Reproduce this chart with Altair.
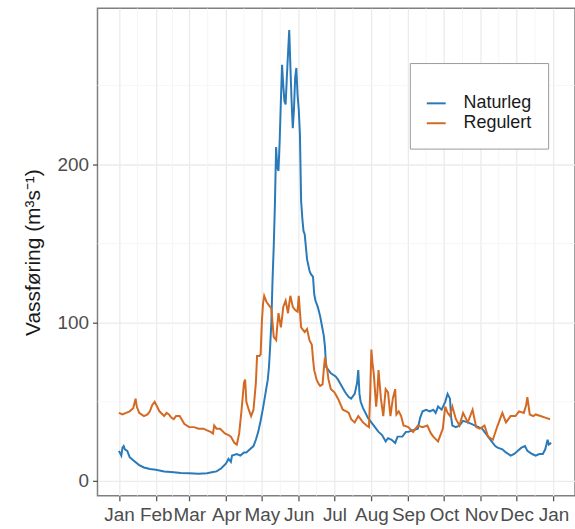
import altair as alt
import pandas as pd

# Daily discharge over one year (day 0 = 1 January), two regimes
nat_day = [0, 2, 3, 4, 5, 7, 9, 12, 17, 21, 26, 31, 38, 46, 52, 59, 67, 74, 78, 82, 86, 90, 92, 94,
           95, 99, 102, 105, 107, 110, 113, 115, 117, 119, 121, 123, 125, 126, 127, 128, 129, 130,
           131, 132, 133, 134, 135, 136, 137, 138, 139, 140, 141, 142, 143, 144, 145, 146, 147, 148,
           149, 150, 151, 152, 153, 154, 155, 156, 157, 158, 160, 161, 163, 164, 165, 167, 169, 170,
           172, 173, 174, 176, 178, 182, 184, 187, 190, 193, 195, 198, 200, 201, 202, 203, 205, 207,
           209, 212, 215, 218, 221, 224, 226, 229, 232, 234, 238, 241, 243, 247, 251, 253, 255, 258,
           261, 264, 266, 268, 271, 274, 276, 278, 279, 280, 283, 286, 289, 293, 296, 299, 302, 305,
           308, 310, 313, 316, 318, 322, 325, 329, 332, 335, 338, 341, 343, 347, 350, 353, 356, 358,
           360, 361, 363]
nat_val = [19, 16, 21, 22, 20, 19, 15, 13, 10, 8.5, 7.5, 7, 6, 5.5, 5, 4.8, 4.6, 4.8, 5.5, 6, 8, 11,
           14, 12, 16, 17, 16, 18, 18, 20, 22, 26, 31, 38, 46, 55, 64, 72, 85, 100, 127, 148, 175,
           211, 198, 196, 215, 240, 263, 250, 240, 238, 255, 270, 285, 262, 240, 223, 235, 255, 261,
           244, 235, 219, 177, 166, 158, 156, 148, 140, 133, 131, 129, 118, 114, 110, 104, 100, 92,
           85, 72, 70, 68, 66, 64, 60, 56, 53, 52, 55, 62, 70, 55, 50, 46, 43, 40, 37, 34, 31, 29,
           25, 27, 26, 24, 28, 28, 31, 31, 32, 33, 40, 44, 45, 44, 45, 43, 47, 45, 50, 55, 52, 40,
           35, 34, 35, 38, 37, 36, 35, 34, 33, 30, 28, 25, 22, 21, 20, 18, 16, 17, 19, 21, 22, 19,
           17, 16, 17, 17, 20, 26, 23, 24]

reg_day = [0, 3, 6, 9, 12, 14, 15, 17, 21, 24, 26, 28, 30, 32, 34, 38, 40, 42, 44, 46, 48, 51, 55,
           59, 63, 67, 71, 74, 77, 79, 80, 82, 85, 89, 92, 94, 97, 99, 101, 103, 105, 106, 107, 109,
           111, 113, 115, 116, 118, 119, 120, 121, 122, 124, 126, 128, 129, 130, 132, 133, 134, 136,
           137, 138, 140, 141, 142, 143, 144, 146, 148, 150, 151, 152, 153, 156, 158, 160, 162, 163,
           164, 166, 168, 169, 171, 172, 173, 175, 176, 178, 181, 184, 188, 191, 193, 195, 198, 201,
           203, 205, 208, 210, 211, 212, 213, 214, 216, 217, 218, 220, 222, 224, 226, 228, 230, 232,
           233, 235, 237, 239, 243, 247, 251, 255, 259, 262, 264, 268, 272, 274, 276, 278, 280, 283,
           286, 289, 291, 293, 297, 300, 303, 307, 310, 314, 318, 322, 325, 329, 333, 336, 340, 342,
           343, 345, 348, 350, 354, 358, 362]
reg_val = [43, 42, 43, 44, 46, 52, 47, 43, 41, 42, 44, 48, 50, 47, 44, 41, 43, 42, 40, 39, 41, 41,
           36, 34, 34, 33, 33, 32, 31, 30, 35, 33, 33, 30, 29, 28, 24, 23, 30, 45, 62, 64, 50, 45,
           41, 45, 62, 79, 79, 80, 100, 112, 117, 113, 111, 109, 100, 91, 89, 98, 106, 97, 103, 110,
           114, 110, 106, 112, 117, 110, 108, 107, 117, 107, 97, 94, 96, 89, 86, 77, 70, 64, 61, 60,
           61, 70, 78, 70, 64, 58, 56, 52, 45, 44, 43, 39, 37, 41, 39, 37, 35, 34, 55, 83, 74, 68,
           47, 55, 70, 52, 41, 58, 56, 41, 52, 58, 42, 44, 41, 35, 34, 31, 35, 34, 35, 30, 28, 25,
           33, 47, 43, 41, 47, 39, 35, 43, 40, 37, 45, 34, 33, 35, 28, 26, 35, 43, 37, 41, 41, 44,
           43, 48, 53, 42, 41, 42, 41, 40, 39]

series_names = ["Naturleg", "Regulert"]
series_colors = ["#2a7ab9", "#d46a22"]

# Month starts (days since 1 January) and y-axis breaks
month_starts = [0, 31, 59, 90, 120, 151, 181, 212, 243, 273, 304, 334, 365]
y_major = [0, 100, 200]
y_minor = [50, 150, 250]

flow = pd.concat([
    pd.DataFrame({"dag": nat_day, "q": nat_val, "serie": series_names[0]}),
    pd.DataFrame({"dag": reg_day, "q": reg_val, "serie": series_names[1]}),
])

minor_x = pd.DataFrame({"dag": [(a + b) / 2 for a, b in zip(month_starts[:-1], month_starts[1:])]})
minor_y = pd.DataFrame({"q": y_minor})

x_enc = alt.X(
    "dag:Q",
    scale=alt.Scale(domain=[-18, 383], nice=False, zero=False),
    axis=alt.Axis(
        values=month_starts,
        labelExpr="timeFormat(datetime(2021, 0, 1 + datum.value), '%b')",
        labelOverlap=False,
        labelFlush=False,
        labelPadding=5,
        title=None,
    ),
)
y_enc = alt.Y(
    "q:Q",
    scale=alt.Scale(domain=[-9.4, 298.7], nice=False, zero=False),
    axis=alt.Axis(values=y_major, title="Vassføring (m³s⁻¹)", titlePadding=14, labelPadding=4),
)

grid_minor = "#f4f4f4"

vgrid = alt.Chart(minor_x).mark_rule(color=grid_minor, strokeWidth=0.8).encode(x=x_enc)
hgrid = alt.Chart(minor_y).mark_rule(color=grid_minor, strokeWidth=0.8).encode(y=y_enc)

lines = alt.Chart(flow).mark_line(strokeWidth=2, interpolate="linear").encode(
    x=x_enc,
    y=y_enc,
    color=alt.Color(
        "serie:N",
        scale=alt.Scale(domain=series_names, range=series_colors),
        legend=alt.Legend(
            title=" ",
            titleFontSize=10,
            titlePadding=4,
            orient="none",
            legendX=314,
            legendY=55,
            padding=16,
            strokeColor="#9a9a9a",
            fillColor="white",
            symbolType="stroke",
            symbolSize=361,
            symbolStrokeWidth=2,
            labelFontSize=18,
            labelColor="#1a1a1a",
            labelOffset=17,
            rowPadding=0,
        ),
    ),
    order=alt.Order("dag:Q"),
)

chart = (
    alt.layer(vgrid, hgrid, lines)
    .properties(
        width=480,
        height=490,
        autosize=alt.AutoSizeParams(type="none"),
        padding={"left": 98, "top": 7, "right": 0, "bottom": 32},
    )
    .configure(font="Liberation Sans")
    .configure_view(stroke="#7f7f7f", strokeWidth=1.5)
    .configure_axis(
        domain=False,
        grid=True,
        gridColor="#ebebeb",
        gridWidth=1.3,
        tickColor="#555555",
        tickWidth=1.3,
        tickSize=5,
        labelColor="#4d4d4d",
        labelFontSize=19,
        titleFontSize=21,
        titleFontWeight="normal",
        titleColor="#1a1a1a",
    )
)

chart.save("out.html", embed_options={"renderer": "svg", "actions": False})
